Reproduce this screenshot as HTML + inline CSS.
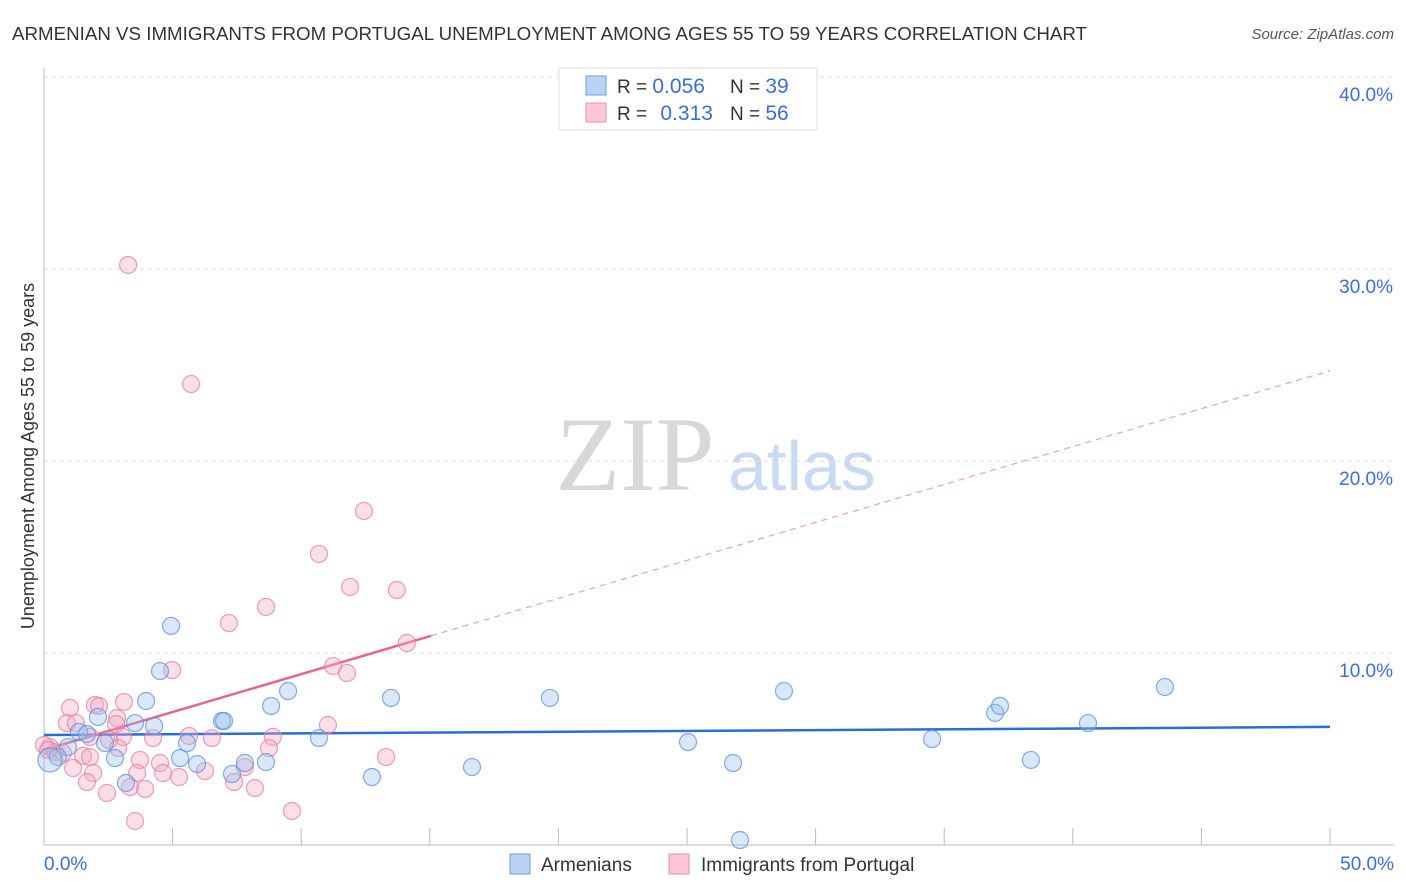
<!DOCTYPE html>
<html><head><meta charset="utf-8">
<style>
body{margin:0;background:#fff;font-family:"Liberation Sans",sans-serif;}
svg{display:block}
</style></head>
<body>
<svg id="chart" width="1406" height="892" xmlns="http://www.w3.org/2000/svg">
<text x="12" y="40" font-size="18" fill="#333" textLength="1075" lengthAdjust="spacingAndGlyphs">ARMENIAN VS IMMIGRANTS FROM PORTUGAL UNEMPLOYMENT AMONG AGES 55 TO 59 YEARS CORRELATION CHART</text>
<text x="1394" y="39" font-size="15" fill="#555" font-style="italic" text-anchor="end">Source: ZipAtlas.com</text>
<text x="635" y="490" font-size="106" fill="#d8d8d8" font-family="Liberation Serif,serif" text-anchor="middle">ZIP</text>
<text x="802" y="490" font-size="70" fill="#c8daf2" text-anchor="middle">atlas</text>
<text transform="translate(34,456) rotate(-90)" font-size="18" fill="#333" text-anchor="middle">Unemployment Among Ages 55 to 59 years</text>
<g id="grid"></g><g id="axes"></g><g id="trend"></g><g id="pts"></g>
<g>
<rect x="559" y="68" width="258" height="62" fill="#fff" stroke="#ddd"/>
<rect x="586" y="76" width="20" height="19" fill="#b9d3f5" stroke="#6a9ee0"/>
<rect x="586" y="103" width="20" height="19" fill="#fbc7d6" stroke="#e890ae"/>
<text x="617" y="93" font-size="19" fill="#333">R = <tspan fill="#3b6fd4" font-size="21">0.056</tspan></text>
<text x="730" y="93" font-size="19" fill="#333">N = <tspan fill="#3b6fd4" font-size="21">39</tspan></text>
<text x="617" y="120" font-size="19" fill="#333">R = <tspan fill="#3b6fd4" dx="8" font-size="21">0.313</tspan></text>
<text x="730" y="120" font-size="19" fill="#333">N = <tspan fill="#3b6fd4" font-size="21">56</tspan></text>
</g>
<g>
<rect x="510" y="854" width="20" height="20" fill="#b9d3f5" stroke="#6a9ee0"/>
<text x="541" y="871" font-size="19" fill="#333">Armenians</text>
<rect x="669" y="854" width="20" height="20" fill="#fbc7d6" stroke="#e890ae"/>
<text x="701" y="871" font-size="19" fill="#333">Immigrants from Portugal</text>
</g>
</svg>
<script>
const yTicks=[10,20,30,40];
const yTickLabels=["10.0%","20.0%","30.0%","40.0%"];
const xTickLabels=["0.0%","50.0%"];
const blueX=[4.94,4.51,3.97,2.10,3.54,4.28,6.92,7.00,1.36,1.67,2.37,0.93,0.54,0.23,2.76,5.29,5.56,5.95,3.19,7.31,7.81,8.63,8.83,9.49,10.69,13.49,12.75,16.64,19.67,25.04,26.79,27.06,28.77,34.53,36.98,37.17,38.37,40.59,43.58];
const blueY=[11.41,9.06,7.50,6.67,6.35,6.20,6.46,6.46,5.89,5.78,5.31,5.10,4.58,4.43,4.53,4.53,5.31,4.22,3.23,3.70,4.27,4.32,7.24,8.02,5.57,7.66,3.54,4.06,7.66,5.36,4.27,0.26,8.02,5.52,6.88,7.24,4.43,6.35,8.23];
const pinkX=[8.63,7.19,4.98,14.11,11.24,11.78,1.01,1.98,2.14,3.11,0.89,1.24,2.84,2.80,1.79,3.07,2.53,4.24,5.64,6.53,8.90,8.75,11.04,0.23,0.43,0.74,1.52,1.79,1.13,1.91,1.67,3.73,4.51,4.63,3.62,2.45,3.34,3.93,5.25,6.26,7.39,7.81,8.20,9.64,3.54,13.30,3.27,5.72,12.44,10.69,11.90,13.72,0,0.16,2.88];
const pinkY=[12.40,11.56,9.11,10.52,9.32,8.96,7.14,7.29,7.24,7.45,6.35,6.35,6.61,6.30,5.63,5.63,5.47,5.57,5.68,5.57,5.63,5.05,6.25,5.10,4.84,4.79,4.64,4.58,4.01,3.75,3.28,4.43,4.27,3.75,3.75,2.71,3.02,2.92,3.54,3.85,3.28,4.06,2.97,1.77,1.25,4.58,30.21,24.01,17.40,15.16,13.44,13.28,5.21,4.95,5.05];
const blueTrend=[5.73,6.15];
const pinkTrend=[4.95,0.395];
const pinkSolidEnd=15.05;

const NS="http://www.w3.org/2000/svg";
const X=v=>44+v*25.72, Y=v=>845-v*19.2;
function mk(tag,attrs,parent){const e=document.createElementNS(NS,tag);for(const k in attrs)e.setAttribute(k,attrs[k]);parent.appendChild(e);return e;}
const grid=document.getElementById('grid'),axes=document.getElementById('axes'),tr=document.getElementById('trend'),pts=document.getElementById('pts');
yTicks.forEach((t,i)=>{
 const l=mk('line',{x1:44,x2:1394,y1:Y(t),y2:Y(t),stroke:'#ddd','stroke-dasharray':'4,4'},grid);
 
 
 const tx=mk('text',{x:1393,y:Y(t)+24,'font-size':19,fill:'#3b6fd4','text-anchor':'end'},grid);
 tx.textContent=yTickLabels[i];
 
 
});
const ax=mk('line',{x1:44,x2:44,y1:68,y2:845,stroke:'#bbb'},axes);


const bx=mk('line',{x1:44,x2:1394,y1:845,y2:845,stroke:'#bbb'},axes);


for(let i=1;i<=10;i++){const t=mk('line',{x1:X(i*5),x2:X(i*5),y1:828,y2:845,stroke:'#bbb'},axes);
 
 }
[[0,'start',44],[50,'end',1394]].forEach((a,i)=>{const t=mk('text',{x:a[2],y:870,'font-size':19,fill:'#3b6fd4','text-anchor':a[1]},axes);t.textContent=xTickLabels[i];
 
 });
function circ(x,y,fill,stroke,r){const c=mk('circle',{cx:X(x),cy:Y(y),r:r,fill:fill,'fill-opacity':0.38,stroke:stroke,'stroke-width':1.2,'stroke-opacity':0.75},pts);return c;}
pinkX.forEach((x,i)=>{const c=circ(x,pinkY[i],'#f5a9c1','#e57fa3',8.5);
 
 });
blueX.forEach((x,i)=>{const c=circ(x,blueY[i],'#9cc0ef','#5b92dd',i===13?12:8.5);
 
 });
const bl=mk('line',{x1:X(0),y1:Y(blueTrend[0]),x2:X(50),y2:Y(blueTrend[1]),stroke:'#2a6dd4','stroke-width':2.5},tr);


const pf=x=>pinkTrend[0]+pinkTrend[1]*x;
const ps=mk('line',{x1:X(0),y1:Y(pf(0)),x2:X(pinkSolidEnd),y2:Y(pf(pinkSolidEnd)),stroke:'#e8638f','stroke-width':2.5},tr);


const pd=mk('line',{x1:X(pinkSolidEnd),y1:Y(pf(pinkSolidEnd)),x2:X(50),y2:Y(pf(50)),stroke:'#e8a0b8','stroke-width':1.2,'stroke-dasharray':'6,5'},tr);


</script>
</body></html>
